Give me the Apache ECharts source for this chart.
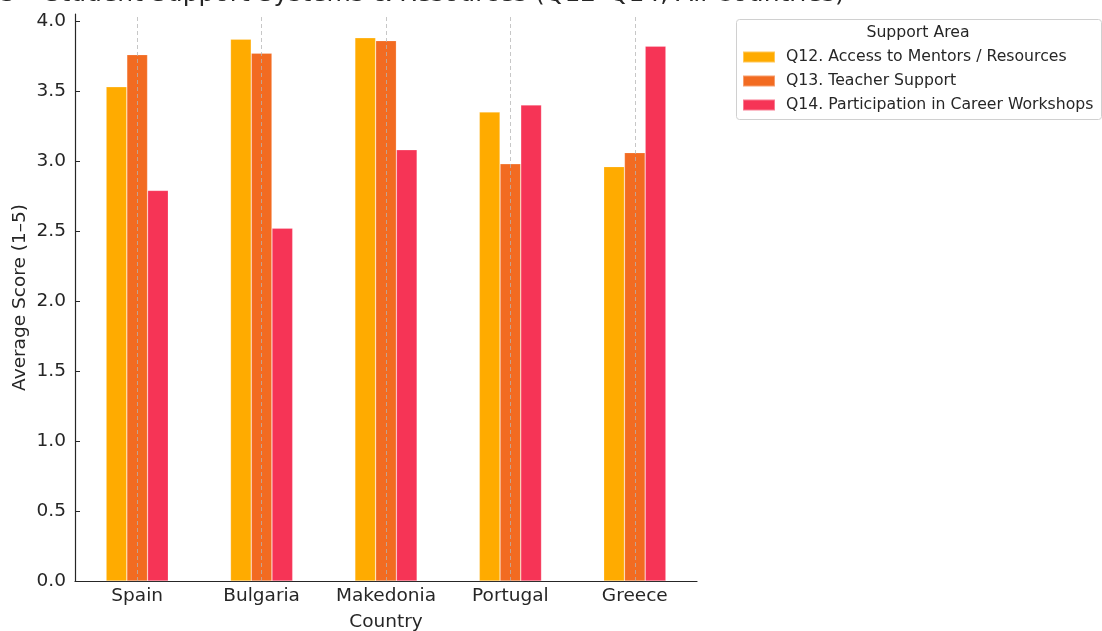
<!DOCTYPE html>
<html>
<head>
<meta charset="utf-8">
<script src="https://cdn.jsdelivr.net/npm/echarts@6/dist/echarts.min.js"></script>
<style>
html,body{margin:0;padding:0;background:#fff;}
#chart{width:1102px;height:631px;}
</style>
</head>
<body>
<div id="chart"></div>
<script>
// ---- data ----
const countries = ['Spain', 'Bulgaria', 'Makedonia', 'Portugal', 'Greece'];
const seriesNames = [
  'Q12. Access to Mentors / Resources',
  'Q13. Teacher Support',
  'Q14. Participation in Career Workshops'
];
const q12 = [3.53, 3.87, 3.88, 3.35, 2.96];
const q13 = [3.76, 3.77, 3.86, 2.98, 3.06];
const q14 = [2.79, 2.52, 3.08, 3.40, 3.82];
const yTicks = [0, 0.5, 1.0, 1.5, 2.0, 2.5, 3.0, 3.5, 4.0];
const titleText = 'Figure 5 – Student Support Systems & Resources (Q12–Q14, All Countries)';
const legendTitle = 'Support Area';
const xName = 'Country';
const yName = 'Average Score (1–5)';

const colors = ['#FFAB00', '#F26B21', '#F63456'];
const FONT = 'DejaVu Sans';
const LBL = 18.5;
const chart = echarts.init(document.getElementById('chart'), null, {renderer: 'canvas'});

const values = [q12, q13, q14];
const series = values.map((v, i) => ({
  name: seriesNames[i],
  type: 'bar',
  data: v,
  barGap: '0%',
  barCategoryGap: '50%',
  itemStyle: {color: colors[i], borderColor: 'rgba(255,255,255,0.35)', borderWidth: 0.6},
  emphasis: {disabled: true},
  animation: false
}));
series[1].markLine = {
  silent: true,
  symbol: 'none',
  animation: false,
  label: {show: false},
  lineStyle: {type: [4, 3], color: 'rgba(180,180,180,0.75)', width: 1},
  data: countries.map(c => ({xAxis: c}))
};

chart.setOption({
  animation: false,
  textStyle: {fontFamily: FONT},
  grid: {left: 75, right: 405, top: 14, bottom: 50, containLabel: false, outerBoundsMode: 'none'},
  graphic: [
    {
      type: 'text', left: -84, top: -18, silent: true,
      style: {text: titleText, font: '25px "DejaVu Sans"', fill: '#262626'}
    },
    {
      type: 'rect', left: 736, top: 19, silent: true,
      shape: {width: 365, height: 100, r: 3},
      style: {fill: '#fff', stroke: '#d0d0d0', lineWidth: 1}, z: 0
    },
    {
      type: 'text', x: 918, y: 33, silent: true,
      style: {text: legendTitle, font: '15.7px "DejaVu Sans"', fill: '#262626', align: 'center', verticalAlign: 'middle'}, z: 1
    }
  ],
  legend: {
    orient: 'vertical',
    left: 737, top: 44,
    itemWidth: 32, itemHeight: 11, itemGap: 8,
    icon: 'rect',
    selectedMode: false,
    textStyle: {fontFamily: FONT, fontSize: 15.7, color: '#262626', padding: [0, 0, 0, 6]},
    data: seriesNames,
    z: 5
  },
  xAxis: {
    type: 'category',
    data: countries,
    name: xName,
    nameLocation: 'middle',
    nameGap: 32,
    nameTextStyle: {fontFamily: FONT, fontSize: LBL, color: '#262626'},
    axisLine: {lineStyle: {color: '#262626', width: 1.2}},
    axisTick: {alignWithLabel: true, inside: true, length: 5, lineStyle: {color: '#262626'}},
    axisLabel: {fontFamily: FONT, fontSize: LBL, color: '#262626', margin: 6, interval: 0, hideOverlap: false},
    splitLine: {show: false}
  },
  yAxis: {
    type: 'value',
    min: 0, max: 4.05,
    name: yName,
    nameLocation: 'middle',
    nameGap: 45,
    nameMoveOverlap: false,
    nameTextStyle: {fontFamily: FONT, fontSize: LBL, color: '#262626'},
    axisLine: {show: true, lineStyle: {color: '#262626', width: 1.2}},
    axisTick: {show: true, inside: true, length: 5, customValues: yTicks, lineStyle: {color: '#262626'}},
    axisLabel: {fontFamily: FONT, fontSize: LBL, color: '#262626', margin: 9, customValues: yTicks,
      formatter: v => v.toFixed(1)},
    splitLine: {show: false}
  },
  series: series
});
</script>
</body>
</html>
